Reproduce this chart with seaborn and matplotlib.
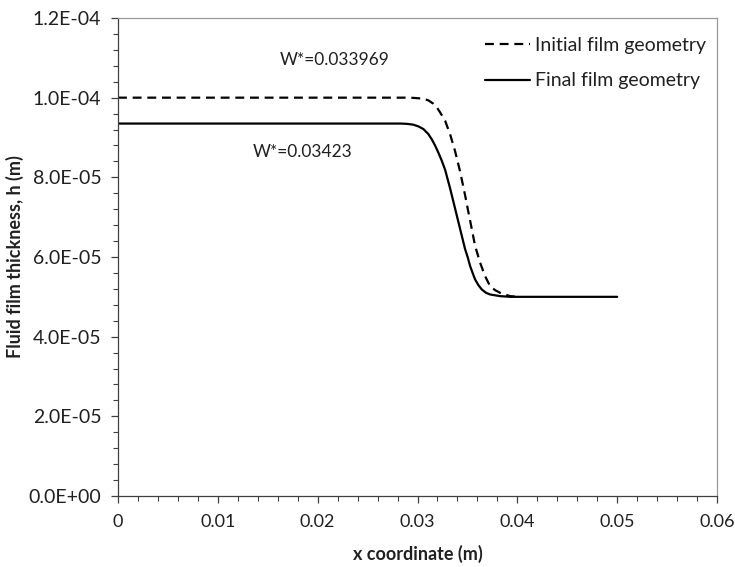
import numpy as np
import pandas as pd
import matplotlib
matplotlib.use("Agg")
import matplotlib.pyplot as plt
import seaborn as sns
from matplotlib.ticker import MultipleLocator, FixedLocator, FuncFormatter

# ---- data ----
x_initial = [0.0, 0.0200, 0.0290, 0.02958, 0.03059, 0.03109, 0.03159, 0.03192, 0.03225,
             0.03276, 0.03326, 0.03376, 0.03426, 0.03476, 0.03509, 0.03543, 0.03576,
             0.03626, 0.03676, 0.03726, 0.03776, 0.03826, 0.03926, 0.0400]
h_initial = [1.0e-4, 1.0e-4, 1.0e-4, 9.995e-5, 9.975e-5, 9.932e-5, 9.848e-5, 9.763e-5, 9.636e-5,
             9.424e-5, 9.085e-5, 8.661e-5, 8.153e-5, 7.560e-5, 7.136e-5, 6.712e-5, 6.289e-5,
             5.865e-5, 5.526e-5, 5.272e-5, 5.170e-5, 5.102e-5, 5.018e-5, 5.0e-5]

x_final = [0.0, 0.0200, 0.0283, 0.02892, 0.02958, 0.03008, 0.03059, 0.03109, 0.03142,
           0.03175, 0.03209, 0.03242, 0.03276, 0.03326, 0.03376, 0.03426, 0.03476,
           0.03503, 0.03526, 0.03553, 0.03576, 0.03609, 0.03643, 0.03686, 0.03726,
           0.03826, 0.03926, 0.0400, 0.0500]
h_final = [9.35e-5, 9.35e-5, 9.35e-5, 9.343e-5, 9.322e-5, 9.280e-5, 9.212e-5, 9.085e-5, 8.958e-5,
           8.805e-5, 8.619e-5, 8.424e-5, 8.195e-5, 7.729e-5, 7.221e-5, 6.712e-5, 6.204e-5,
           5.992e-5, 5.780e-5, 5.594e-5, 5.442e-5, 5.297e-5, 5.187e-5, 5.102e-5, 5.060e-5,
           5.018e-5, 5.001e-5, 5.0e-5, 5.0e-5]

series_labels = ["Initial film geometry", "Final film geometry"]
annotations = ["W*=0.033969", "W*=0.03423"]
x_ticks = [0, 0.01, 0.02, 0.03, 0.04, 0.05, 0.06]
x_tick_labels = ["0", "0.01", "0.02", "0.03", "0.04", "0.05", "0.06"]
y_ticks = [0.0, 2.0e-5, 4.0e-5, 6.0e-5, 8.0e-5, 1.0e-4, 1.2e-4]

sns.set_style("ticks")
plt.rcParams['font.family'] = ['Lato', 'DejaVu Sans']

fig = plt.figure(figsize=(7.35, 5.67), dpi=100)
ax = fig.add_axes([118/735, 1-496/567, (717-118)/735, (496-18)/567])

df_i = pd.DataFrame({"x": x_initial, "h": h_initial})
df_f = pd.DataFrame({"x": x_final, "h": h_final})

sns.lineplot(data=df_i, x="x", y="h", ax=ax, color="black", linewidth=1.6,
             label=series_labels[0], estimator=None, sort=False)
sns.lineplot(data=df_f, x="x", y="h", ax=ax, color="black", linewidth=1.6,
             label=series_labels[1], estimator=None, sort=False)
ax.lines[0].set_dashes((4, 2.6))

ax.set_xlim(0, 0.06)
ax.set_ylim(0, 1.2e-4)
ax.xaxis.set_major_locator(FixedLocator(x_ticks))
ax.set_xticklabels(x_tick_labels)
ax.xaxis.set_minor_locator(MultipleLocator(0.002))
ax.yaxis.set_major_locator(FixedLocator(y_ticks))
ax.yaxis.set_major_formatter(FuncFormatter(lambda v, p: f"{v:.1E}"))
ax.yaxis.set_minor_locator(MultipleLocator(4e-6))

ax.tick_params(axis="both", which="major", direction="out", length=5, width=0.9,
               color="#404040", labelcolor="#202020")
ax.tick_params(axis="x", which="major", labelsize=13, pad=8)
ax.tick_params(axis="y", which="major", labelsize=14, pad=7)
ax.tick_params(axis="both", which="minor", direction="out", length=3.8, width=0.8, color="#404040")

for s in ["left", "bottom"]:
    ax.spines[s].set_color("#404040")
    ax.spines[s].set_linewidth(0.9)
for s in ["top", "right"]:
    ax.spines[s].set_color("#9a9a9a")
    ax.spines[s].set_linewidth(0.9)

ax.set_xlabel("x coordinate (m)", fontsize=13, fontweight="bold", labelpad=11, color="#202020")
ax.set_ylabel("Fluid film thickness, h (m)", fontsize=13, fontweight="bold", labelpad=3, color="#202020")

ax.text(0.02174, 1.095e-4, annotations[0], fontsize=12.5, ha="center", va="center", color="#202020")
ax.text(0.01853, 8.64e-5, annotations[1], fontsize=12.5, ha="center", va="center", color="#202020")

leg = ax.legend(loc="upper left", bbox_to_anchor=((485-118)/599, 1-(37-18)/478),
                frameon=False, fontsize=14, handlelength=2.3, handletextpad=0.25,
                borderpad=0, borderaxespad=0, labelspacing=0.95)
for t in leg.get_texts():
    t.set_color("#202020")

fig.savefig("out.png", dpi=100)
